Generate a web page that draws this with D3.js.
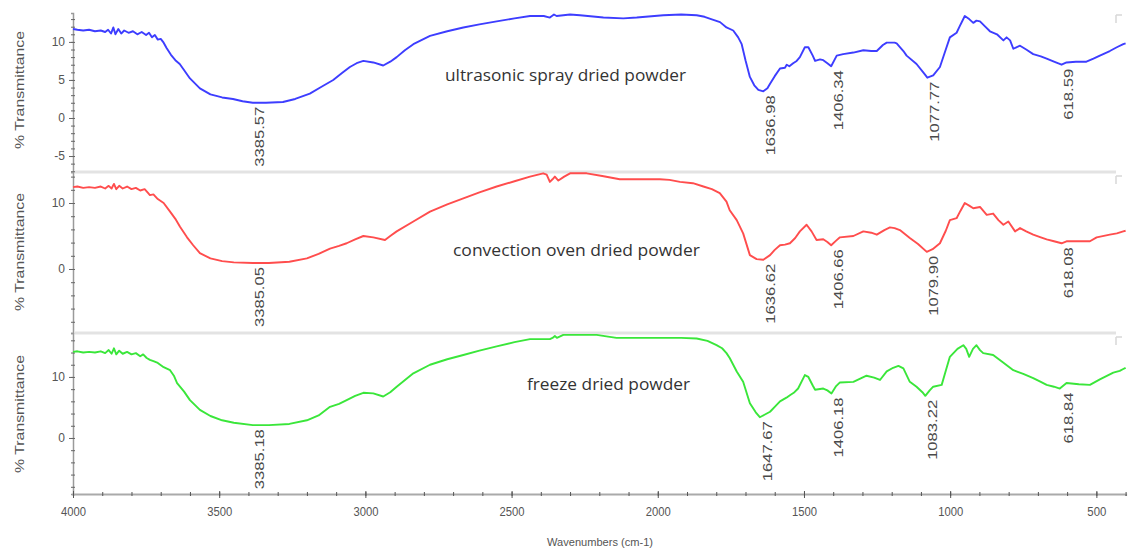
<!DOCTYPE html>
<html><head><meta charset="utf-8">
<script src="https://cdn.jsdelivr.net/npm/d3@7"></script>
<style>body{margin:0;background:#fff}svg{display:block}</style>
</head><body>
<svg id="c" width="1128" height="553"></svg>
<script>
// ---- data (wavenumber cm-1, % transmittance) ----
const ultrasonic = [[4000,11.7],[3985,11.6],[3965,11.5],[3945,11.6],[3925,11.4],[3905,11.5],[3890,11.3],[3880,11.6],[3870,11.1],[3862,11.9],[3855,11.0],[3845,11.7],[3835,11.1],[3825,11.5],[3810,11.2],[3795,11.4],[3780,11.0],[3765,11.3],[3750,10.9],[3740,11.2],[3730,10.6],[3720,10.9],[3710,10.3],[3700,10.4],[3690,9.9],[3680,9.2],[3665,8.3],[3650,7.6],[3635,7.1],[3624,6.5],[3600,5.2],[3566,3.9],[3530,3.1],[3490,2.7],[3453,2.5],[3420,2.2],[3385,2.0],[3340,2.0],[3282,2.1],[3240,2.5],[3190,3.2],[3150,4.1],[3110,5.0],[3080,5.9],[3053,6.7],[3030,7.2],[3007,7.5],[2973,7.3],[2939,6.9],[2915,7.4],[2893,8.0],[2865,8.9],[2836,9.7],[2779,10.8],[2720,11.4],[2665,11.9],[2610,12.3],[2551,12.7],[2490,13.1],[2437,13.4],[2390,13.4],[2369,13.2],[2355,13.6],[2346,13.4],[2300,13.6],[2266,13.5],[2186,13.2],[2118,13.1],[2072,13.2],[1981,13.5],[1920,13.6],[1867,13.5],[1840,13.3],[1810,12.9],[1787,12.6],[1765,11.9],[1742,11.5],[1725,10.6],[1713,9.7],[1700,7.6],[1685,5.4],[1670,4.3],[1656,3.7],[1639,3.5],[1625,3.9],[1616,4.5],[1600,5.5],[1582,6.5],[1565,6.6],[1559,7.0],[1550,6.8],[1537,7.2],[1525,7.5],[1514,8.0],[1497,9.3],[1485,9.3],[1470,8.2],[1462,7.5],[1445,7.7],[1434,7.6],[1420,7.2],[1407,6.8],[1388,8.2],[1366,8.4],[1331,8.6],[1297,8.9],[1270,8.8],[1251,8.8],[1230,9.6],[1217,9.9],[1190,9.9],[1183,9.8],[1160,8.8],[1149,8.2],[1115,7.1],[1090,5.9],[1078,5.3],[1058,5.6],[1035,6.7],[1015,9.0],[1001,10.6],[978,11.2],[968,12.0],[950,13.4],[935,13.0],[921,12.5],[910,12.8],[898,12.7],[880,12.0],[864,11.4],[840,11.0],[818,10.2],[807,10.6],[795,10.2],[784,9.1],[761,9.5],[740,9.0],[716,8.4],[690,8.1],[670,7.8],[645,7.4],[619,7.0],[602,7.3],[570,7.4],[534,7.4],[510,7.8],[488,8.2],[454,8.8],[430,9.3],[408,9.7],[400,9.8]];

const convection = [[4000,12.4],[3985,12.5],[3965,12.3],[3945,12.4],[3925,12.3],[3905,12.5],[3890,12.2],[3878,12.6],[3868,12.2],[3860,12.9],[3852,12.1],[3842,12.6],[3830,12.2],[3815,12.5],[3800,12.1],[3785,12.3],[3770,11.9],[3755,12.1],[3745,11.6],[3737,11.2],[3725,11.3],[3710,10.6],[3690,10.0],[3668,8.7],[3650,7.6],[3634,6.4],[3610,4.8],[3589,3.6],[3566,2.4],[3530,1.6],[3490,1.2],[3450,1.0],[3385,0.9],[3330,0.9],[3260,1.1],[3200,1.6],[3160,2.3],[3121,3.1],[3090,3.5],[3064,3.9],[3035,4.5],[3007,5.0],[2973,4.8],[2933,4.4],[2915,5.0],[2893,5.7],[2836,7.2],[2779,8.7],[2720,9.8],[2665,10.7],[2610,11.6],[2551,12.5],[2490,13.3],[2437,14.0],[2392,14.5],[2380,14.3],[2369,13.2],[2360,13.6],[2352,14.0],[2340,13.4],[2320,14.0],[2300,14.5],[2243,14.5],[2190,14.1],[2130,13.6],[2060,13.6],[1993,13.6],[1960,13.5],[1924,13.2],[1880,13.0],[1844,12.5],[1815,12.1],[1788,11.5],[1765,10.2],[1754,8.9],[1730,7.4],[1708,5.4],[1685,2.1],[1662,1.5],[1639,1.4],[1616,2.1],[1600,2.9],[1582,3.6],[1565,3.7],[1548,3.9],[1530,4.7],[1514,5.7],[1491,6.7],[1474,5.7],[1457,4.4],[1434,4.5],[1420,4.1],[1407,3.6],[1390,4.3],[1377,4.8],[1331,5.0],[1297,5.7],[1270,5.5],[1251,5.2],[1225,5.9],[1206,6.3],[1190,6.2],[1172,5.9],[1138,4.7],[1110,3.8],[1080,2.6],[1060,3.0],[1035,3.9],[1015,5.8],[1001,7.4],[978,7.7],[965,8.8],[950,10.0],[935,9.6],[921,9.2],[898,9.4],[875,8.2],[853,8.4],[835,7.4],[818,6.7],[801,7.2],[778,5.7],[761,6.2],[740,5.7],[716,5.2],[690,4.8],[670,4.5],[645,4.2],[619,3.9],[602,4.2],[560,4.2],[522,4.2],[499,4.8],[454,5.2],[430,5.4],[408,5.7],[400,5.8]];

const freeze = [[4000,14.1],[3985,14.2],[3965,14.0],[3945,14.1],[3925,14.0],[3905,14.2],[3890,13.9],[3878,14.4],[3868,13.8],[3860,14.7],[3852,13.7],[3842,14.3],[3830,13.8],[3815,14.1],[3800,13.7],[3785,13.9],[3770,13.4],[3760,13.7],[3748,13.1],[3737,12.8],[3725,12.6],[3710,12.3],[3690,11.6],[3668,11.1],[3655,10.2],[3644,9.0],[3620,7.6],[3600,6.2],[3566,4.6],[3530,3.6],[3490,2.9],[3450,2.5],[3385,2.1],[3330,2.1],[3260,2.3],[3200,2.9],[3160,3.7],[3121,5.1],[3090,5.6],[3064,6.2],[3035,6.9],[3007,7.4],[2973,7.3],[2939,6.8],[2915,7.5],[2893,8.4],[2836,10.6],[2779,12.0],[2720,12.9],[2665,13.6],[2610,14.3],[2551,15.0],[2490,15.7],[2437,16.2],[2369,16.2],[2360,16.4],[2352,16.7],[2345,16.4],[2323,16.9],[2260,16.9],[2209,16.9],[2170,16.6],[2141,16.4],[2060,16.4],[1981,16.4],[1920,16.4],[1867,16.3],[1830,15.9],[1799,15.2],[1780,14.7],[1765,13.9],[1754,13.1],[1730,10.9],[1708,9.2],[1685,5.7],[1665,4.2],[1651,3.4],[1635,3.8],[1616,4.3],[1600,5.1],[1582,6.0],[1560,6.6],[1548,7.0],[1535,7.4],[1520,8.1],[1497,10.3],[1485,10.0],[1470,8.6],[1462,7.9],[1434,8.1],[1420,7.8],[1406,7.3],[1390,8.5],[1377,9.1],[1331,9.2],[1286,10.2],[1260,9.9],[1240,9.5],[1217,10.9],[1195,11.5],[1177,11.8],[1160,11.4],[1138,9.2],[1115,8.4],[1095,7.5],[1085,6.9],[1070,7.8],[1058,8.4],[1029,8.7],[1015,11.0],[1001,13.3],[975,14.6],[955,15.2],[945,14.6],[935,13.3],[922,14.6],[910,15.2],[898,14.4],[887,13.9],[853,13.6],[820,12.4],[784,11.1],[750,10.5],[716,9.8],[690,9.2],[670,8.7],[645,8.4],[625,8.1],[602,9.0],[560,8.8],[522,8.7],[488,9.6],[442,10.7],[420,11.0],[408,11.3],[400,11.5]];

const peaksUltrasonic = [[3385.57,"3385.57"],[1636.98,"1636.98"],[1406.34,"1406.34"],[1077.77,"1077.77"],[618.59,"618.59"]];
const peaksConvection = [[3385.05,"3385.05"],[1636.62,"1636.62"],[1406.66,"1406.66"],[1079.90,"1079.90"],[618.08,"618.08"]];
const peaksFreeze = [[3385.18,"3385.18"],[1647.67,"1647.67"],[1406.18,"1406.18"],[1083.22,"1083.22"],[618.84,"618.84"]];

const sampleNames = ["ultrasonic spray dried powder","convection oven dried powder","freeze dried powder"];
const xTicks = [4000,3500,3000,2500,2000,1500,1000,500];
const yTicksMajor = [[10,5,0,-5],[10,0],[10,0]];
const yTickStep = [1,2,2];
const xTitle = "Wavenumbers (cm-1)";
const yTitle = "% Transmittance";

// ---- layout ----
const svg = d3.select("#c");
const x = d3.scaleLinear().domain([4000, 400]).range([73, 1125.6]);

const panels = [
  {data: ultrasonic, peaks: peaksUltrasonic, color: "#3d3dff", dom: [-7.1, 13.8], rng: [172, 13],
   name: sampleNames[0], nameX: 445, nameY: 81, nameLen: 241, titleY: 90},
  {data: convection, peaks: peaksConvection, color: "#ff4d4d", dom: [-9.7, 14.7], rng: [333, 172],
   name: sampleNames[1], nameX: 453, nameY: 256, nameLen: 247, titleY: 252},
  {data: freeze, peaks: peaksFreeze, color: "#3ae63a", dom: [-9.18, 17.2], rng: [494, 333],
   name: sampleNames[2], nameX: 527, nameY: 390, nameLen: 163, titleY: 414}
];

// separators
[172, 333].forEach(yy => {
  svg.append("line").attr("x1", 75).attr("x2", 1116).attr("y1", yy).attr("y2", yy)
    .attr("stroke", "#e3e3e3").attr("stroke-width", 3);
});
// small corner marks at right
[15, 176, 337].forEach(yy => {
  svg.append("path").attr("d", `M1116,${yy} h6 M1116,${yy} v8`)
    .attr("stroke", "#d8d8d8").attr("stroke-width", 1.5).attr("fill", "none");
});

panels.forEach((p, i) => {
  const y = d3.scaleLinear().domain(p.dom).range(p.rng);
  const step = yTickStep[i];
  const minor = d3.range(Math.ceil(p.dom[0] / step) * step, p.dom[1], step);
  // minor ticks
  const gMin = svg.append("g").attr("transform", "translate(73,0)")
    .call(d3.axisLeft(y).tickValues(minor).tickSize(2).tickFormat(""));
  gMin.select(".domain").attr("stroke", "#9a9a9a").attr("stroke-width", 1.5);
  gMin.selectAll(".tick line").attr("stroke", "#666").attr("x2", 2).attr("x1", -2);
  // major ticks
  const gMaj = svg.append("g").attr("transform", "translate(73,0)")
    .call(d3.axisLeft(y).tickValues(yTicksMajor[i]).tickSize(4).tickPadding(4).tickFormat(d => String(d)));
  gMaj.select(".domain").remove();
  gMaj.selectAll(".tick line").attr("stroke", "#666");
  gMaj.selectAll(".tick text").attr("fill", "#555").attr("font-family", "Liberation Sans, Arial, sans-serif")
    .attr("font-size", 12);

  // y title
  svg.append("text").attr("transform", `translate(24,${p.titleY}) rotate(-90)`)
    .attr("text-anchor", "middle").attr("fill", "#555")
    .attr("font-family", "Liberation Sans, Arial, sans-serif").attr("font-size", 12)
    .attr("textLength", 118).attr("lengthAdjust", "spacingAndGlyphs").text(yTitle);

  // spectrum line
  const line = d3.line().x(d => x(d[0])).y(d => y(d[1])).curve(d3.curveLinear);
  svg.append("path").datum(p.data).attr("d", line).attr("fill", "none")
    .attr("stroke", p.color).attr("stroke-width", 1.9).attr("stroke-linejoin", "round");

  // peak labels
  p.peaks.forEach(pk => {
    let best = p.data[0];
    p.data.forEach(d => { if (Math.abs(d[0] - pk[0]) < Math.abs(best[0] - pk[0])) best = d; });
    const px = x(pk[0]) + 7, py = y(best[1]) + 4;
    svg.append("text").attr("transform", `translate(${px},${py}) rotate(-90)`)
      .attr("text-anchor", "end").attr("dy", "0.35em").attr("fill", "#4a4a4a")
      .attr("font-family", "Liberation Sans, Arial, sans-serif").attr("font-size", 12.5)
      .attr("textLength", pk[1].length === 7 ? 60 : 51).attr("lengthAdjust", "spacingAndGlyphs")
      .text(pk[1]);
  });

  // sample name
  svg.append("text").attr("x", p.nameX).attr("y", p.nameY).attr("fill", "#333")
    .attr("font-family", "Open Sans, Liberation Sans, sans-serif").attr("font-size", 17)
    .attr("textLength", p.nameLen).attr("lengthAdjust", "spacingAndGlyphs").text(p.name);
});

// x axis
const xMinor = d3.range(4000, 399, -100);
const gxMin = svg.append("g").attr("transform", "translate(0,494)")
  .call(d3.axisBottom(x).tickValues(xMinor).tickSize(2).tickFormat(""));
gxMin.select(".domain").attr("stroke", "#aaa").attr("stroke-width", 2);
gxMin.selectAll(".tick line").attr("stroke", "#555").attr("y1", -2).attr("y2", 2);
const gx = svg.append("g").attr("transform", "translate(0,494)")
  .call(d3.axisBottom(x).tickValues(xTicks).tickSize(4).tickPadding(9).tickFormat(d => String(d)));
gx.select(".domain").remove();
gx.selectAll(".tick line").attr("stroke", "#555").attr("y1", -3).attr("y2", 4);
gx.selectAll(".tick text").attr("fill", "#555").attr("font-family", "Liberation Sans, Arial, sans-serif")
  .attr("font-size", 12).attr("textLength", 25).attr("lengthAdjust", "spacingAndGlyphs");
gx.selectAll(".tick text").filter(d => d === 500).attr("textLength", 19);

svg.append("text").attr("x", 600).attr("y", 546).attr("text-anchor", "middle").attr("fill", "#555")
  .attr("font-family", "Liberation Sans, Arial, sans-serif").attr("font-size", 11.5)
  .attr("textLength", 106).attr("lengthAdjust", "spacingAndGlyphs").text(xTitle);
</script>
</body></html>
